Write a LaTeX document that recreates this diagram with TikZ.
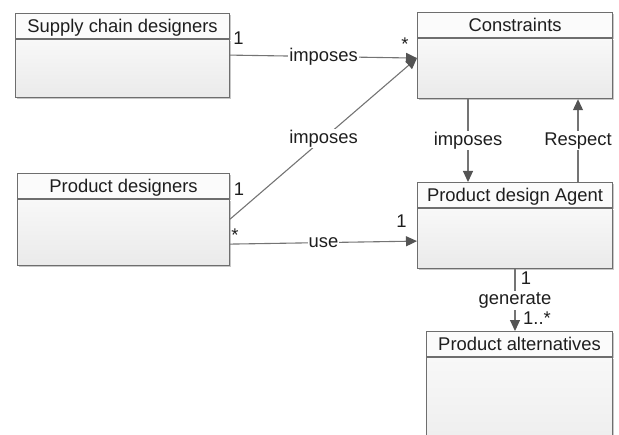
\documentclass[tikz,border=0pt]{standalone}
\usepackage{fontspec}
\setmainfont{Liberation Sans}
\usetikzlibrary{arrows.meta,calc,shadows}
\definecolor{boxborder}{HTML}{6E6E6E}
\definecolor{linecol}{HTML}{747474}
\definecolor{tipcol}{HTML}{545454}
\definecolor{txt}{HTML}{1E1E1E}
\definecolor{hdrfill}{HTML}{FBFBFB}
\definecolor{bodytop}{HTML}{F8F8F8}
\definecolor{bodybot}{HTML}{EAEAEA}
\tikzset{
  base/.style={font=\fontsize{18.4bp}{21bp}\selectfont, text=txt},
  boxshadow/.style={drop shadow={shadow xshift=1.5bp, shadow yshift=-1.5bp, fill=black, opacity=0.22}},
  hdr/.style={base, draw=boxborder, line width=1.1bp, fill=hdrfill, minimum height=25bp,
    inner sep=0pt, text height=14bp, text depth=1bp, anchor=north west, boxshadow},
  body/.style={draw=boxborder, line width=1.1bp, top color=bodytop, bottom color=bodybot,
    anchor=north west, inner sep=0pt, boxshadow},
  assoc/.style={draw=linecol, line width=1.1bp},
  arr/.style={assoc, -{Triangle[length=11bp,width=10bp,fill=tipcol,color=tipcol]}},
  lbl/.style={base, fill=white, inner sep=1bp, text height=13bp, text depth=4bp},
  mult/.style={base, inner sep=0pt, text height=13bp, text depth=0pt},
}
\begin{document}
\begin{tikzpicture}[x=1bp,y=-1bp]
\useasboundingbox (0,0) rectangle (619,435);
% classes
\node[hdr, minimum width=214bp] (scdh) at (15,13) {Supply chain designers};
\node[body, minimum width=214bp, minimum height=58bp] (scd) at (scdh.south west) {};
\node[hdr, minimum width=195bp] (conh) at (417,12) {Constraints};
\node[body, minimum width=195bp, minimum height=60bp] (con) at (conh.south west) {};
\node[hdr, minimum width=212bp] (pdh) at (17,173) {Product designers};
\node[body, minimum width=212bp, minimum height=66bp] (pd) at (pdh.south west) {};
\node[hdr, minimum width=195bp] (pdah) at (417,182) {Product design Agent};
\node[body, minimum width=195bp, minimum height=60bp] (pda) at (pdah.south west) {};
\node[hdr, minimum width=186bp] (pah) at (426,331) {Product alternatives};
\node[body, minimum width=186bp, minimum height=120bp] (pa) at (pah.south west) {};
% connectors
\draw[arr] ($(scd.north east)+(0,16)$) -- node[lbl] (l1) {imposes} ($(con.north west)+(0,20)$);
\draw[arr] ($(pd.north east)+(0,20)$) -- node[lbl] (l2) {imposes} ($(con.north west)+(0,20)$);
\draw[arr] ($(pd.north east)+(0,45)$) -- node[lbl] (l3) {use} ($(pda.north west)+(0,33)$);
\draw[arr] ($(con.south west)+(51,0)$) coordinate (c1) -- node[lbl] (l4) {imposes} (c1 |- pdah.north);
\draw[arr] ($(pdah.north west)+(161,0)$) coordinate (c2) -- node[lbl] (l5) {Respect} (c2 |- con.south);
\draw[arr] ($(pda.south west)+(98,0)$) coordinate (c3) -- node[lbl] (l6) {generate} (c3 |- pah.north);
% multiplicities
\node[mult] (m1) at (238.5,38.5) {1};
\node[mult] (m2) at (405,44) {*};
\node[mult] (m3) at (239,189) {1};
\node[mult] (m4) at (235,235.5) {*};
\node[mult] (m5) at (401.5,221.5) {1};
\node[mult] (m6) at (526,278) {1};
\node[mult] (m7) at (537,317.5) {1..*};
\end{tikzpicture}
\end{document}
